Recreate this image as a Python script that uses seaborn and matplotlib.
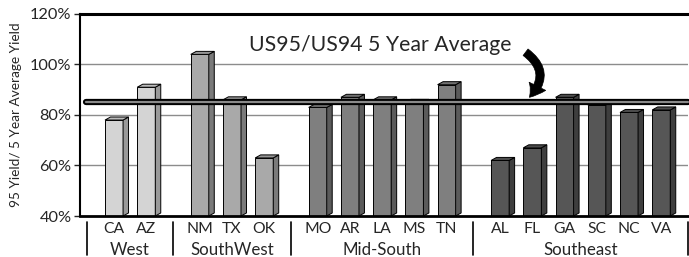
import seaborn as sns
import matplotlib.pyplot as plt
import matplotlib.colors as mcolors
from matplotlib.patches import Polygon
from matplotlib.ticker import PercentFormatter
import pandas as pd

# data
regions = ['West', 'SouthWest', 'Mid-South', 'Southeast']
states = [['CA', 'AZ'],
          ['NM', 'TX', 'OK'],
          ['MO', 'AR', 'LA', 'MS', 'TN'],
          ['AL', 'FL', 'GA', 'SC', 'NC', 'VA']]
yields = [[78, 91],
          [104, 86, 63],
          [83, 87, 86, 85, 92],
          [62, 67, 87, 84, 81, 82]]
avg_line = 85
region_colors = {'West': '#d4d4d4', 'SouthWest': '#a9a9a9',
                 'Mid-South': '#7f7f7f', 'Southeast': '#565656'}

# bar positions with a gap between regions
gap = 0.66
rows = []
i = 0
for g, (reg, sts, vals) in enumerate(zip(regions, states, yields)):
    for s, v in zip(sts, vals):
        rows.append({'pos': i + g * gap, 'state': s, 'region': reg, 'yield': v})
        i += 1
df = pd.DataFrame(rows)

sns.set_style('white')
plt.rcParams['font.family'] = ['Lato', 'DejaVu Sans']

fig = plt.figure(figsize=(6.89, 2.57), dpi=100)
ax = fig.add_axes([80 / 689, 1 - 216 / 257, 608 / 689, 202 / 257])

sns.barplot(data=df, x='pos', y='yield', hue='region', palette=region_colors,
            native_scale=True, dodge=False, width=0.56, errorbar=None,
            edgecolor='black', linewidth=0.7, legend=False, zorder=2, ax=ax)

ax.set_ylim(40, 120)
ax.set_xlim(-1.056, 17.81)

# fake 3D: side and top faces for each bar
dx, dy = 0.17, 1.2
for p in list(ax.patches):
    x, w, h = p.get_x(), p.get_width(), p.get_height()
    fc = mcolors.to_rgb(p.get_facecolor())
    side = tuple(c * 0.72 for c in fc)
    top = tuple(c * 0.88 for c in fc)
    ax.add_patch(Polygon([(x + w, 40), (x + w + dx, 40 + dy), (x + w + dx, h + dy), (x + w, h)],
                         closed=True, facecolor=side, edgecolor='black', linewidth=0.7, zorder=2))
    ax.add_patch(Polygon([(x, h), (x + dx, h + dy), (x + w + dx, h + dy), (x + w, h)],
                         closed=True, facecolor=top, edgecolor='black', linewidth=0.7, zorder=2))

# grid and frame
for yv in [60, 80, 100]:
    ax.axhline(yv, color='#8c8c8c', linewidth=1, zorder=0)
ax.spines['right'].set_visible(False)
ax.spines['top'].set_linewidth(2.2)
ax.spines['left'].set_linewidth(1.5)
ax.spines['bottom'].set_linewidth(2)
for sp in ['top', 'left', 'bottom']:
    ax.spines[sp].set_color('black')

ax.set_yticks([40, 60, 80, 100, 120])
ax.yaxis.set_major_formatter(PercentFormatter(decimals=0))
ax.tick_params(axis='y', length=4, width=1, direction='out', labelsize=11.8, pad=2, left=True)
ax.set_ylabel('95 Yield/ 5 Year Average Yield', fontsize=9.8)
ax.yaxis.set_label_coords(-0.095, 0.5)

ax.set_xticks(df['pos'], df['state'])
ax.tick_params(axis='x', length=0, labelsize=11.3, pad=4)
ax.set_xlabel('')

# average line
x_start = -0.87
ax.plot([x_start, ax.get_xlim()[1]], [avg_line, avg_line], color='black', linewidth=4.5,
        solid_capstyle='round', zorder=5, clip_on=False)
ax.plot([x_start, ax.get_xlim()[1]], [avg_line, avg_line], color='#8a8a8a', linewidth=1.6,
        solid_capstyle='round', zorder=6, clip_on=False)

ax.text(8.26, 107.7, 'US95/US94 5 Year Average', fontsize=15.3, ha='center', va='center', zorder=6)
ax.annotate('', xy=(12.83, 86.2), xytext=(12.7, 105.5),
            arrowprops=dict(arrowstyle='simple,head_length=0.7,head_width=0.95,tail_width=0.42',
                            connectionstyle='arc3,rad=-0.6', fc='black', ec='black', lw=0.5,
                            mutation_scale=14),
            zorder=7)

# region labels and separators under the axis
trans = ax.get_xaxis_transform()
starts = df.groupby('region', sort=False)['pos'].min()
ends = df.groupby('region', sort=False)['pos'].max()
half = (1 + gap) / 2
edges = [starts.iloc[0] - half] + [e + half for e in ends]
for e in edges:
    ax.plot([e, e], [-0.03, -0.195], transform=trans, color='black', linewidth=1.2, clip_on=False)
for reg in regions:
    ax.text((starts[reg] + ends[reg]) / 2, -0.17, reg, transform=trans,
            ha='center', va='center', fontsize=12.2)

fig.savefig('out.png', dpi=100)
